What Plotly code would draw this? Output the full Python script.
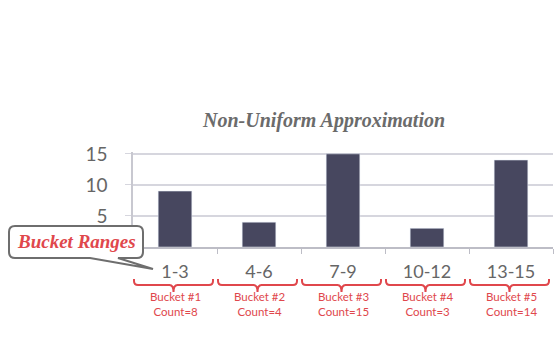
import plotly.graph_objects as go

# ---- data ----
categories = ["1-3", "4-6", "7-9", "10-12", "13-15"]
values = [9, 4, 15, 3, 14]
bucket_labels = ["Bucket #1", "Bucket #2", "Bucket #3", "Bucket #4", "Bucket #5"]
bucket_counts = [8, 4, 15, 3, 14]
y_ticks = [5, 10, 15]
title_text = "Non-Uniform Approximation"
callout_text = "Bucket Ranges"

# ---- layout geometry (pixels) ----
W, H = 560, 361
ML, MR, MT, MB = 133, 7, 152, 114
PW, PH = W - ML - MR, H - MT - MB
BAR_COLOR = "#47475f"
RED = "#e0474c"
GREY_TXT = "#666666"


def px(x):
    return (x - ML) / PW


def py(y):
    return (H - MB - y) / PH


fig = go.Figure()
fig.add_trace(go.Bar(x=categories, y=values, marker_color=BAR_COLOR, width=0.4,
                     hoverinfo="skip"))

shapes = []
annotations = []

n = len(categories)
cw = PW / n
for i, (lab, cnt) in enumerate(zip(bucket_labels, bucket_counts)):
    xl = ML + i * cw + 1
    xr = ML + (i + 1) * cw - 4
    xc = (xl + xr) / 2
    yt, yh, yp = 279, 285, 292
    r = 4
    path = (f"M {px(xl)},{py(yt)} L {px(xl)},{py(yh - r)} Q {px(xl)},{py(yh)} {px(xl + r)},{py(yh)} "
            f"L {px(xc - r)},{py(yh)} Q {px(xc)},{py(yh)} {px(xc)},{py(yp)} "
            f"Q {px(xc)},{py(yh)} {px(xc + r)},{py(yh)} "
            f"L {px(xr - r)},{py(yh)} Q {px(xr)},{py(yh)} {px(xr)},{py(yh - r)} L {px(xr)},{py(yt)}")
    shapes.append(dict(type="path", xref="paper", yref="paper", path=path,
                       line=dict(color=RED, width=2), layer="above"))
    annotations.append(dict(xref="paper", yref="paper", x=px(xc + 2), y=py(304),
                            text=f"{lab}<br>Count={cnt}", showarrow=False,
                            font=dict(family="Lato", size=11.5, color=RED),
                            align="center", xanchor="center", yanchor="middle"))

# callout box with pointer
bx0, by0, bx1, by1, r = 9, 226, 143, 258, 6
box = (f"M {px(bx0 + r)},{py(by0)} L {px(bx1 - r)},{py(by0)} Q {px(bx1)},{py(by0)} {px(bx1)},{py(by0 + r)} "
       f"L {px(bx1)},{py(by1 - r)} Q {px(bx1)},{py(by1)} {px(bx1 - r)},{py(by1)} "
       f"L {px(118)},{py(by1)} L {px(153)},{py(269)} L {px(90)},{py(by1)} "
       f"L {px(bx0 + r)},{py(by1)} Q {px(bx0)},{py(by1)} {px(bx0)},{py(by1 - r)} "
       f"L {px(bx0)},{py(by0 + r)} Q {px(bx0)},{py(by0)} {px(bx0 + r)},{py(by0)} Z")
shapes.append(dict(type="path", xref="paper", yref="paper", path=box,
                   line=dict(color="#6e6e6e", width=2), fillcolor="white", layer="above"))
annotations.append(dict(xref="paper", yref="paper", x=px(76), y=py(241),
                        text=f"<b><i>{callout_text}</i></b>", showarrow=False,
                        font=dict(family="Liberation Serif", size=19, color=RED),
                        xanchor="center", yanchor="middle"))

annotations.append(dict(xref="paper", yref="paper", x=px(323), y=py(120),
                        text=f"<b><i>{title_text}</i></b>", showarrow=False,
                        font=dict(family="Liberation Serif", size=20, color="#6b6b6b"),
                        xanchor="center", yanchor="middle"))

fig.update_layout(
    width=W, height=H,
    margin=dict(l=ML, r=MR, t=MT, b=MB, pad=0),
    paper_bgcolor="white", plot_bgcolor="white",
    showlegend=False,
    shapes=shapes, annotations=annotations,
    bargap=0.6,
)
fig.update_xaxes(type="category", range=[-0.5, 4.5], showline=True, linecolor="#bdbdc6", linewidth=1.5,
                 ticks="outside", tickson="boundaries", ticklen=5, tickcolor="#bdbdc6",
                 tickfont=dict(family="Lato", size=18, color=GREY_TXT),
                 showgrid=False, ticklabelstandoff=8, fixedrange=True)
fig.update_yaxes(range=[0, 15.3], tickvals=y_ticks, showgrid=True, gridcolor="#d6d6de", gridwidth=1.5,
                 showline=True, linecolor="#c8c8d0", linewidth=1.5, zeroline=False,
                 ticks="outside", ticklen=6, tickcolor="#d6d6de",
                 tickfont=dict(family="Lato", size=19, color=GREY_TXT),
                 ticklabelstandoff=14, fixedrange=True)

fig.write_html("out.html")
